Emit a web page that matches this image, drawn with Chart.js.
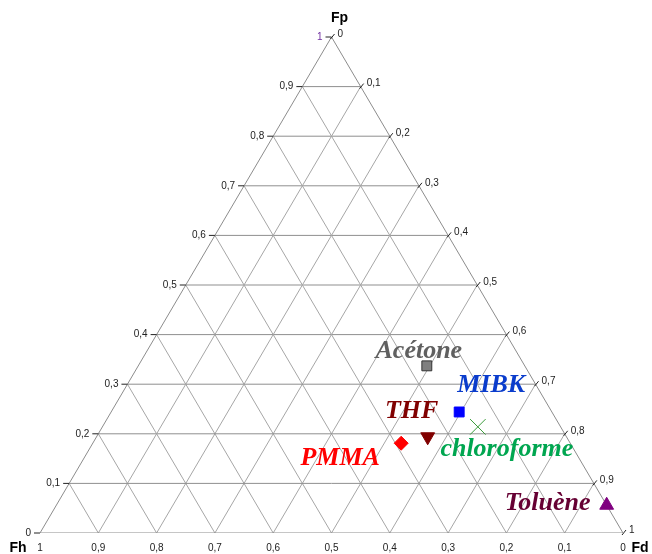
<!DOCTYPE html>
<html>
<head>
<meta charset="utf-8">
<script src="https://cdn.jsdelivr.net/npm/chart.js@4.4.1/dist/chart.umd.min.js"></script>
<style>
  body { margin: 0; background: #fff; }
  canvas { display: block; }
</style>
</head>
<body>
<canvas id="ternary" width="652" height="554"></canvas>
<script>
// Solvents and their fractional parameters
const solvents = ['Acétone', 'MIBK', 'chloroforme', 'THF', 'PMMA', 'Toluène'];
const fd = [0.495, 0.597, 0.644, 0.568, 0.529, 0.944];
const fp = [0.337, 0.244, 0.214, 0.194, 0.181, 0.056];
const fh = [0.168, 0.159, 0.142, 0.238, 0.290, 0.000];

// Tick values and labels shared by the three sides
const tickValues = [0, 0.1, 0.2, 0.3, 0.4, 0.5, 0.6, 0.7, 0.8, 0.9, 1];
const tickLabels = ['0', '0,1', '0,2', '0,3', '0,4', '0,5', '0,6', '0,7', '0,8', '0,9', '1'];

// marker / label styling
const styles = [
  { shape: 'rect', r: 7, fill: '#7f7f7f', line: '#333333', text: '#606060', dx: -8, dy: -15 },
  { shape: 'rect', r: 7, fill: '#0000ff', line: '#0000ff', text: '#0a3ccc', dx: 32, dy: -27 },
  { shape: 'crossRot', r: 11, fill: '#3a9a3a', line: '#3a9a3a', text: '#00a650', dx: 29, dy: 22 },
  { shape: 'triangle', r: 8, rot: 180, fill: '#800000', line: '#800000', text: '#800000', dx: -16, dy: -25 },
  { shape: 'rectRot', r: 7, fill: '#ff0000', line: '#ff0000', text: '#ff0000', dx: -61, dy: 15 },
  { shape: 'triangle', r: 8, fill: '#800080', line: '#800080', text: '#660033', dx: -59, dy: -2 }
];

// ternary (Fd, Fp) -> cartesian on a unit triangle
const toXY = (d, p) => ({ x: d + p / 2, y: p });

const gridSets = [];
const addLine = (a, b, color) => gridSets.push({
  type: 'scatter', data: [a, b], showLine: true, pointRadius: 0,
  borderColor: color, borderWidth: 1, order: 5
});

// outline
addLine(toXY(0, 0), toXY(1, 0), '#8c8c8c');
addLine(toXY(0, 0), toXY(0, 1), '#8c8c8c');
addLine(toXY(1, 0), toXY(0, 1), '#8c8c8c');
for (let i = 1; i < 10; i++) {
  const v = tickValues[i];
  // constant Fp
  addLine(toXY(0, v), toXY(1 - v, v), '#8f8f8f');
  // constant Fd
  addLine(toXY(v, 0), toXY(v, 1 - v), '#a6a6a6');
  // constant Fh
  addLine(toXY(1 - v, 0), toXY(0, 1 - v), '#a6a6a6');
}

const pointSets = solvents.map((name, i) => ({
  type: 'scatter',
  label: name,
  data: [toXY(fd[i], fp[i])],
  pointStyle: styles[i].shape,
  pointRadius: styles[i].r,
  rotation: styles[i].rot || 0,
  backgroundColor: styles[i].fill,
  borderColor: styles[i].line,
  borderWidth: 1,
  order: 0
}));

const ternaryLabels = {
  id: 'ternaryLabels',
  afterDatasetsDraw(chart) {
    const { ctx, scales: { x, y } } = chart;
    const px = (d, p) => [x.getPixelForValue(d + p / 2), y.getPixelForValue(p)];
    ctx.save();
    ctx.strokeStyle = '#222';
    ctx.lineWidth = 1;
    ctx.font = '10px "Liberation Sans", Arial, sans-serif';
    ctx.textBaseline = 'middle';
    tickValues.forEach((v, i) => {
      // left side: Fp
      let [lx, ly] = px(0, v);
      ctx.beginPath(); ctx.moveTo(lx - 6, ly); ctx.lineTo(lx, ly); ctx.stroke();
      ctx.fillStyle = i === 10 ? '#7030a0' : '#222';
      ctx.textAlign = 'right';
      ctx.fillText(tickLabels[i], lx - 9, ly);
      // right side: Fd
      let [rx, ry] = px(v, 1 - v);
      ctx.beginPath(); ctx.moveTo(rx - 1, ry + 2); ctx.lineTo(rx + 3, ry - 3); ctx.stroke();
      ctx.fillStyle = '#222';
      ctx.textAlign = 'left';
      ctx.fillText(tickLabels[i], rx + 6, ry - 3);
      // bottom side: Fh
      let [bx, by] = px(1 - v, 0);
      ctx.textAlign = 'center';
      ctx.fillText(tickLabels[i], bx, by + 15);
    });
    // corner titles
    ctx.fillStyle = '#000';
    ctx.font = 'bold 14px "Liberation Sans", Arial, sans-serif';
    ctx.textAlign = 'center';
    const top = px(0, 1), left = px(0, 0), right = px(1, 0);
    ctx.fillText('Fp', top[0] + 8, top[1] - 19);
    ctx.fillText('Fh', left[0] - 22, left[1] + 15);
    ctx.fillText('Fd', right[0] + 17, right[1] + 15);
    // solvent names
    ctx.font = 'italic bold 26px "Liberation Serif", "Times New Roman", serif';
    solvents.forEach((name, i) => {
      const [sx, sy] = px(fd[i], fp[i]);
      ctx.fillStyle = styles[i].text;
      ctx.fillText(name, sx + styles[i].dx, sy + styles[i].dy);
    });
    ctx.restore();
  }
};

new Chart(document.getElementById('ternary'), {
  type: 'scatter',
  data: { datasets: [...pointSets, ...gridSets] },
  options: {
    responsive: false,
    animation: false,
    devicePixelRatio: 1,
    layout: { padding: { left: 40, right: 29, top: 37, bottom: 21 } },
    scales: {
      x: { type: 'linear', min: 0, max: 1, display: false },
      y: { type: 'linear', min: 0, max: 1, display: false }
    },
    plugins: { legend: { display: false }, tooltip: { enabled: false } }
  },
  plugins: [ternaryLabels]
});
</script>
</body>
</html>
